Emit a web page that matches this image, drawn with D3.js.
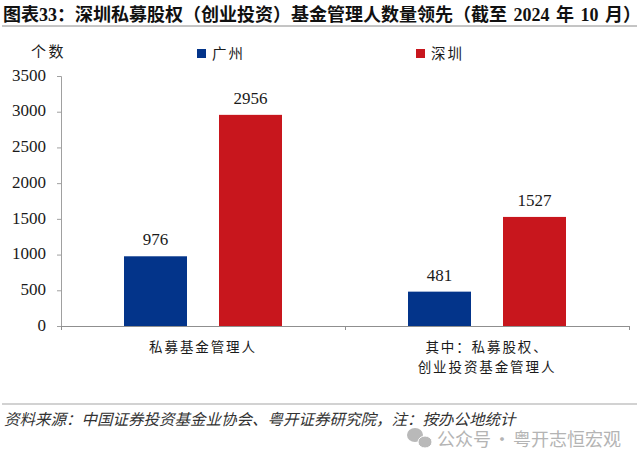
<!DOCTYPE html>
<html>
<head>
<meta charset="utf-8">
<script src="https://d3js.org/d3.v7.min.js"></script>
<style>
body { margin: 0; background: #fff; }
text { font-family: "Liberation Serif", "Noto Sans CJK SC", serif; fill: #1a1a1a; }
</style>
</head>
<body>
<script>
const categories = ["私募基金管理人", "其中\uFF1A私募股权、|创业投资基金管理人"];
const seriesNames = ["广州", "深圳"];
const guangzhou = [976, 481];
const shenzhen = [2956, 1527];
const yTicks = [0, 500, 1000, 1500, 2000, 2500, 3000, 3500];
const seriesColors = ["#03348a", "#c8161d"];

const titleText = "图表33\uFF1A深圳私募股权\uFF08创业投资\uFF09基金管理人数量领先\uFF08截至 2024 年 10 月\uFF09";
const yUnit = "个数";
const sourceText = "资料来源\uFF1A中国证券投资基金业协会、粤开证券研究院\uFF0C注\uFF1A按办公地统计";
const watermark = "公众号 · 粤开志恒宏观";

const svg = d3.select("body").append("svg")
    .attr("width", 640)
    .attr("height", 465);

// title + rules
svg.append("text")
    .attr("x", 3).attr("y", 21)
    .attr("font-size", 18)
    .attr("font-weight", "bold")
    .attr("word-spacing", 2)
    .style("fill", "#111")
    .text(titleText);
svg.append("line").attr("x1", 2).attr("x2", 637).attr("y1", 26).attr("y2", 26)
    .attr("stroke", "#8a8a8a").attr("stroke-width", 1);
svg.append("line").attr("x1", 2).attr("x2", 637).attr("y1", 404).attr("y2", 404)
    .attr("stroke", "#a5a5a5").attr("stroke-width", 1);

// scales
const x0 = d3.scaleBand().domain(categories).range([61, 629]);
const x1 = d3.scaleBand().domain(seriesNames).range([0, x0.bandwidth()])
    .paddingInner(32 / 95).paddingOuter(63 / 95);
const y = d3.scaleLinear().domain([0, 3500]).range([326, 76]);

// bars
const rows = seriesNames.map((name, i) => ({
    name: name,
    color: seriesColors[i],
    values: i == 0 ? guangzhou : shenzhen
}));

rows.forEach((s) => {
    const g = svg.append("g");
    g.selectAll("rect")
        .data(s.values)
        .enter()
        .append("rect")
        .attr("x", (d, i) => x0(categories[i]) + x1(s.name))
        .attr("y", (d) => y(d))
        .attr("width", x1.bandwidth())
        .attr("height", (d) => y(0) - y(d))
        .attr("fill", s.color);
    g.selectAll("text")
        .data(s.values)
        .enter()
        .append("text")
        .attr("x", (d, i) => x0(categories[i]) + x1(s.name) + x1.bandwidth() / 2)
        .attr("y", (d) => y(d) - 11)
        .attr("text-anchor", "middle")
        .attr("font-size", 17)
        .text((d) => d);
});

// y axis
const yAxis = svg.append("g")
    .attr("transform", "translate(61,0)")
    .call(d3.axisLeft(y).tickValues(yTicks).tickSize(4).tickPadding(11).tickFormat(d3.format("d")));
yAxis.selectAll("text").attr("font-size", 17).attr("dy", "0.25em");
yAxis.selectAll("line,path").attr("stroke", "#a0a0a0").attr("stroke-width", 1);

// x axis, ticks sit at the band edges so drawn with a scalePoint
const xEdges = d3.scalePoint().domain([0, 1, 2]).range([61, 629]);
const xAxis = svg.append("g")
    .attr("transform", "translate(0,326)")
    .call(d3.axisBottom(xEdges).tickSize(4).tickFormat(""));
xAxis.selectAll("line,path").attr("stroke", "#8f8f8f").attr("stroke-width", 1);

// category labels
categories.forEach((c) => {
    const t = svg.append("text")
        .attr("text-anchor", "middle")
        .attr("font-size", 13.5)
        .attr("letter-spacing", 1.9);
    c.split("|").forEach((part, i) => {
        t.append("tspan")
            .attr("x", x0(c) + x0.bandwidth() / 2)
            .attr("y", 352 + i * 20)
            .text(part);
    });
});

// unit
svg.append("text")
    .attr("x", 31).attr("y", 57)
    .attr("font-size", 15)
    .attr("letter-spacing", 2.5)
    .text(yUnit);

// legend
const legendX = [197, 416];
rows.forEach((s, i) => {
    svg.append("rect")
        .attr("x", legendX[i]).attr("y", 49)
        .attr("width", 9).attr("height", 9)
        .attr("fill", s.color);
    svg.append("text")
        .attr("x", legendX[i] + 15).attr("y", 59)
        .attr("font-size", 14.5)
        .attr("letter-spacing", 2)
        .text(s.name);
});

// source
svg.append("text")
    .attr("x", 4).attr("y", 425)
    .attr("font-size", 15.5)
    .attr("font-style", "italic")
    .style("fill", "#333")
    .text(sourceText);

// watermark
const wm = svg.append("g").attr("fill", "#b9b9b9");
wm.append("ellipse").attr("cx", 415).attr("cy", 435).attr("rx", 8).attr("ry", 7);
wm.append("ellipse").attr("cx", 425).attr("cy", 442).attr("rx", 7).attr("ry", 6)
    .attr("stroke", "#fff").attr("stroke-width", 1);
svg.append("text")
    .attr("x", 437).attr("y", 446)
    .attr("font-size", 18)
    .attr("word-spacing", -2)
    .style("font-family", "'Noto Sans CJK SC'")
    .style("fill", "#b4b4b4")
    .text(watermark);
</script>
</body>
</html>
